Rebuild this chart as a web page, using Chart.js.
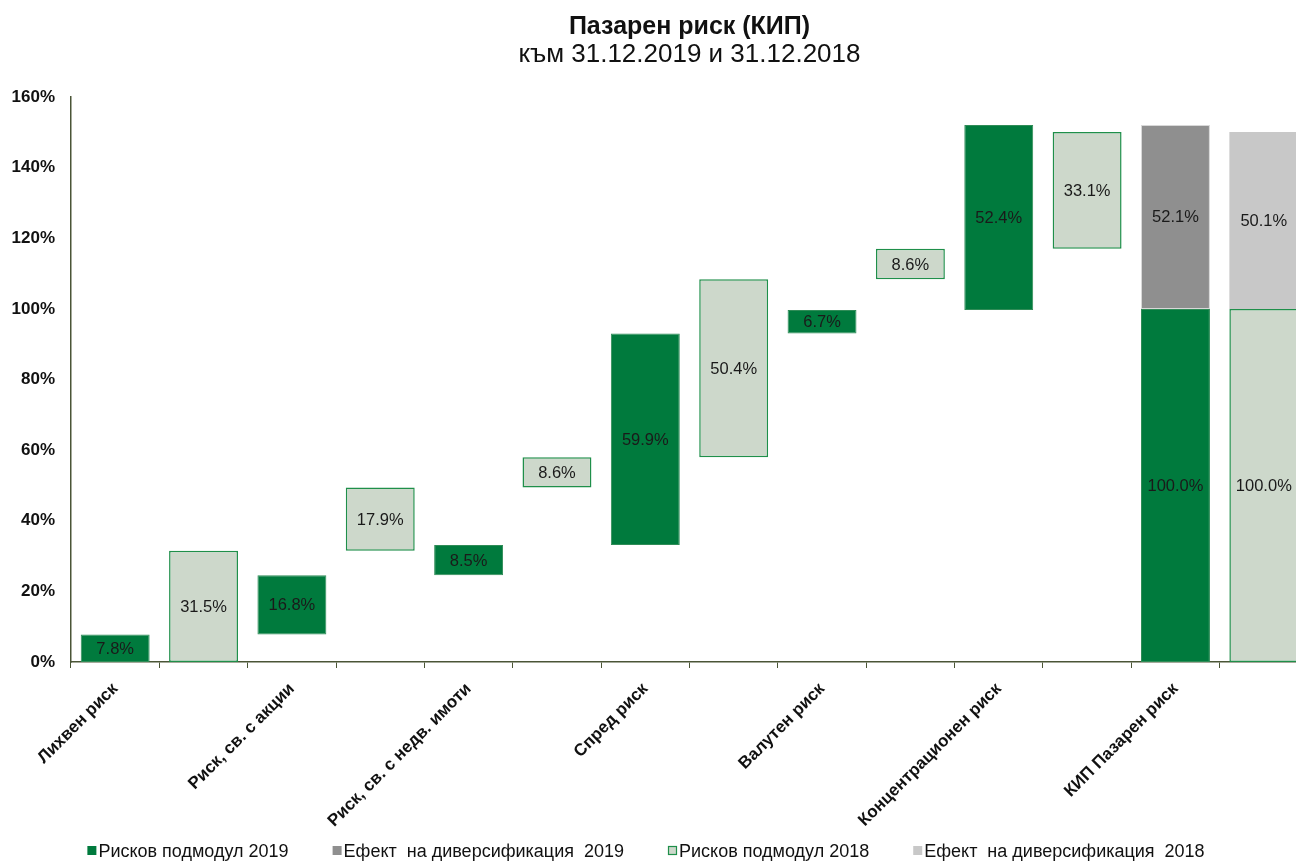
<!DOCTYPE html>
<html>
<head>
<meta charset="utf-8">
<script src="https://cdn.jsdelivr.net/npm/chart.js@4"></script>
<style>
  body { margin: 0; overflow: hidden; background: #fff; }
  #wrap { width: 1308px; height: 861px; }
</style>
</head>
<body>
<div id="wrap"><canvas id="myChart"></canvas></div>
<script>
// categories and values
const categories = ['Лихвен риск', 'Риск, св. с акции', 'Риск, св. с недв. имоти', 'Спред риск',
  'Валутен риск', 'Концентрационен риск', 'КИП Пазарен риск'];
const sub2019 = [7.8, 16.8, 8.5, 59.9, 6.7, 52.4];
const sub2018 = [31.5, 17.9, 8.6, 50.4, 8.6, 33.1];
const total2019 = 100.0;
const total2018 = 100.0;
const div2019 = 52.1;
const div2018 = 50.1;
const yTicks = [0, 20, 40, 60, 80, 100, 120, 140, 160];

const FONT = '"Liberation Sans", Arial, sans-serif';

// each category gets a 2019 slot and a 2018 slot
const xLabels = [];
categories.forEach(c => { xLabels.push(c); xLabels.push(''); });

const n = xLabels.length;
const blank = () => new Array(n).fill(null);

// waterfall: stack each submodule on top of the previous one
const d19 = blank(), d18 = blank(), dv19 = blank(), dv18 = blank();
let run = 0;
sub2019.forEach((v, i) => { d19[i * 2] = [run, run + v]; run += v; });
d19[12] = [0, total2019];
dv19[12] = [total2019, total2019 + div2019];
run = 0;
sub2018.forEach((v, i) => { d18[i * 2 + 1] = [run, run + v]; run += v; });
d18[13] = [0, total2018];
dv18[13] = [total2018, total2018 + div2018];

// value labels in the middle of every bar
const barLabels = {
  id: 'barLabels',
  afterDatasetsDraw(chart) {
    const ctx = chart.ctx;
    ctx.save();
    ctx.font = '16.5px ' + FONT;
    ctx.fillStyle = '#1a1a1a';
    ctx.textAlign = 'center';
    ctx.textBaseline = 'middle';
    chart.data.datasets.forEach((ds, di) => {
      chart.getDatasetMeta(di).data.forEach((bar, i) => {
        const raw = ds.data[i];
        if (!raw) return;
        const p = bar.getCenterPoint();
        ctx.fillText((raw[1] - raw[0]).toFixed(1) + '%', p.x, p.y + 1);
      });
    });
    ctx.restore();
  }
};

// legend drawn along the bottom edge
const LEGEND_CX = 646;
const bottomLegend = {
  id: 'bottomLegend',
  afterDraw(chart) {
    const ctx = chart.ctx;
    const y = 851;
    const gap = 44;
    ctx.save();
    ctx.font = '18px ' + FONT;
    ctx.textBaseline = 'middle';
    const items = chart.data.datasets.map(ds => ({
      text: ds.label, w: 11 + ctx.measureText(ds.label).width,
      fill: ds.backgroundColor, stroke: ds.legendBorder
    }));
    const total = items.reduce((s, it) => s + it.w, 0) + gap * (items.length - 1);
    let x = LEGEND_CX - total / 2;
    items.forEach(it => {
      ctx.fillStyle = it.fill;
      ctx.fillRect(x, y - 5, 9, 9);
      if (it.stroke) {
        ctx.strokeStyle = it.stroke;
        ctx.lineWidth = 1.2;
        ctx.strokeRect(x + 0.5, y - 4.5, 8, 8);
      }
      ctx.fillStyle = '#111';
      ctx.fillText(it.text, x + 11, y + 1);
      x += it.w + gap;
    });
    ctx.restore();
  }
};

const ctx = document.getElementById('myChart').getContext('2d');
new Chart(ctx, {
  type: 'bar',
  data: {
    labels: xLabels,
    datasets: [
      { label: 'Рисков подмодул 2019', data: d19, backgroundColor: '#007a3d',
        borderColor: '#2f8c57', borderWidth: 1 },
      { label: 'Ефект  на диверсификация  2019', data: dv19, backgroundColor: '#8f8f8f',
        borderColor: '#d8d8d8', borderWidth: 1 },
      { label: 'Рисков подмодул 2018', data: d18, backgroundColor: '#cdd8cb',
        borderColor: '#1f8f4a', borderWidth: 1.5, legendBorder: '#1f8f4a' },
      { label: 'Ефект  на диверсификация  2018', data: dv18, backgroundColor: '#c8c8c8',
        borderWidth: 0 }
    ]
  },
  options: {
    responsive: true,
    maintainAspectRatio: false,
    animation: false,
    layout: { padding: { left: 10, right: 0, bottom: 24 } },
    datasets: {
      bar: { grouped: false, barPercentage: 0.78, categoryPercentage: 1, borderSkipped: false }
    },
    plugins: {
      legend: { display: false },
      tooltip: { enabled: false },
      title: {
        display: true, fullSize: false,
        text: 'Пазарен риск (КИП)',
        color: '#111',
        font: { family: FONT, size: 25, weight: 'bold', lineHeight: 1 },
        padding: { top: 15, bottom: 0 }
      },
      subtitle: {
        display: true, fullSize: false,
        text: 'към 31.12.2019 и 31.12.2018',
        color: '#111',
        font: { family: FONT, size: 26, lineHeight: 1 },
        padding: { top: 2, bottom: 29 }
      }
    },
    scales: {
      x: {
        afterFit(scale) { scale.paddingLeft = 0; scale.paddingRight = 0; scale.height = 175; },
        grid: { display: true, drawOnChartArea: false, drawTicks: true, tickLength: 6,
          color: '#4a5536', offset: true },
        border: { display: true, color: '#4a5536', width: 1.5 },
        ticks: {
          autoSkip: false, maxRotation: 45, minRotation: 45, color: '#111', padding: 11,
          font: { family: FONT, size: 17, weight: 'bold' }
        }
      },
      y: {
        min: 0, max: 160,
        afterBuildTicks(scale) { scale.ticks = yTicks.map(v => ({ value: v })); },
        afterFit(scale) { scale.width = 61; },
        grid: { display: false, drawTicks: false },
        border: { display: true, color: '#4a5536', width: 1.5 },
        ticks: {
          color: '#111', padding: 16,
          font: { family: FONT, size: 17, weight: 'bold' },
          callback: v => v + '%'
        }
      }
    }
  },
  plugins: [barLabels, bottomLegend]
});
</script>
</body>
</html>
